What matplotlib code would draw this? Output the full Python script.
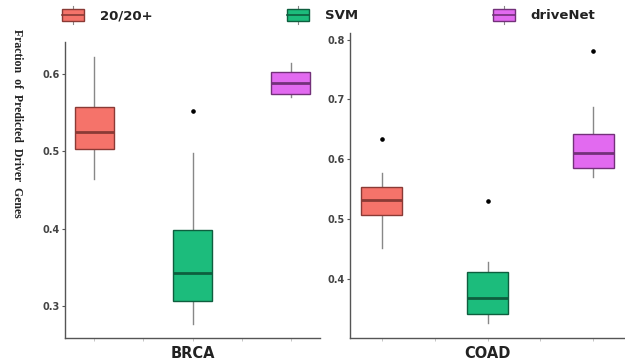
import matplotlib
matplotlib.use("Agg")
import matplotlib.pyplot as plt
from matplotlib.patches import Rectangle
from matplotlib.lines import Line2D
from matplotlib.legend_handler import HandlerBase

# ---- data ----
methods = ["20/20+", "SVM", "driveNet"]
colors = ["#F5736A", "#1CBC7C", "#E26AF0"]
edge_colors = ["#8A3A35", "#0E5E3E", "#73317A"]

# BRCA stats: whislo, q1, med, q3, whishi, fliers
brca_whislo = [0.464, 0.277, 0.570]
brca_q1 = [0.503, 0.3065, 0.574]
brca_med = [0.5246, 0.3427, 0.588]
brca_q3 = [0.557, 0.398, 0.6017]
brca_whishi = [0.622, 0.498, 0.614]
brca_fliers = [[], [0.552], []]

# COAD stats
coad_whislo = [0.453, 0.327, 0.571]
coad_q1 = [0.507, 0.343, 0.585]
coad_med = [0.533, 0.369, 0.610]
coad_q3 = [0.5545, 0.412, 0.643]
coad_whishi = [0.578, 0.429, 0.688]
coad_fliers = [[0.6345], [0.5305], [0.781]]

brca_yticks = [0.3, 0.4, 0.5, 0.6]
coad_yticks = [0.4, 0.5, 0.6, 0.7, 0.8]
panel_labels = ["BRCA", "COAD"]


def make_stats(wl, q1, med, q3, wh, fl):
    return [dict(whislo=a, q1=b, med=c, q3=d, whishi=e, fliers=f)
            for a, b, c, d, e, f in zip(wl, q1, med, q3, wh, fl)]


fig = plt.figure(figsize=(6.25, 3.62), dpi=100)
ax1 = fig.add_axes([0.104, 0.066, 0.408, 0.818])
ax2 = fig.add_axes([0.56, 0.066, 0.44, 0.843])

spine_col = "#555555"
tick_col = "#444444"


def draw(ax, stats, ylim, yticks, label):
    bp = ax.bxp(stats, positions=[0, 1, 2], widths=0.39, patch_artist=True,
                showcaps=False,
                boxprops=dict(linewidth=1.0),
                whiskerprops=dict(color="#888888", linewidth=1.0),
                medianprops=dict(linewidth=2.0),
                flierprops=dict(marker="o", markersize=2.3,
                                markerfacecolor="black", markeredgecolor="black"))
    for i, box in enumerate(bp["boxes"]):
        box.set_facecolor(colors[i])
        box.set_edgecolor(edge_colors[i])
        box.set_zorder(3)
    for i, m in enumerate(bp["medians"]):
        m.set_color(edge_colors[i])
        m.set_zorder(4)
    ax.set_xlim(-0.3, 2.3)
    ax.set_ylim(*ylim)
    ax.set_yticks(yticks)
    ax.set_yticklabels([f"{t:.1f}" for t in yticks], fontsize=7,
                       fontweight="bold", color=tick_col)
    ax.set_xticks([0, 0.5, 1, 1.5, 2])
    ax.set_xticklabels([])
    ax.tick_params(axis="x", length=2, color="#bbbbbb", width=0.6)
    ax.tick_params(axis="y", length=2, color=spine_col, width=0.8, pad=2)
    for s in ["top", "right"]:
        ax.spines[s].set_visible(False)
    for s in ["left", "bottom"]:
        ax.spines[s].set_color(spine_col)
        ax.spines[s].set_linewidth(1.0)
    ax.set_xlabel(label, fontsize=10.5, fontweight="bold", labelpad=0,
                  color="#222222")


draw(ax1, make_stats(brca_whislo, brca_q1, brca_med, brca_q3, brca_whishi, brca_fliers),
     (0.2586, 0.641), brca_yticks, panel_labels[0])
draw(ax2, make_stats(coad_whislo, coad_q1, coad_med, coad_q3, coad_whishi, coad_fliers),
     (0.302, 0.811), coad_yticks, panel_labels[1])

fig.text(0.027, 0.92, "Fraction  of  Predicted  Driver  Genes", rotation=270,
         ha="center", va="top", fontsize=8.5, fontweight="bold",
         family="Liberation Serif", color="#222222")


class BoxHandler(HandlerBase):
    def __init__(self, face, edge):
        super().__init__()
        self.face = face
        self.edge = edge

    def create_artists(self, legend, orig_handle, xdescent, ydescent, width,
                       height, fontsize, trans):
        cx = width / 2 - xdescent
        rect = Rectangle((-xdescent, -ydescent + height * 0.1), width,
                         height * 0.8, facecolor=self.face, edgecolor=self.edge,
                         linewidth=1.0, transform=trans)
        med = Line2D([-xdescent, width - xdescent],
                     [-ydescent + height / 2] * 2, color=self.edge,
                     linewidth=1.2, transform=trans)
        w1 = Line2D([cx, cx], [-ydescent - height * 0.15, -ydescent + height * 0.1],
                    color="#888888", linewidth=0.8, transform=trans)
        w2 = Line2D([cx, cx], [-ydescent + height * 0.9, -ydescent + height * 1.15],
                    color="#888888", linewidth=0.8, transform=trans)
        return [w1, w2, rect, med]


legend_x_px = [62, 287, 493]
for i, name in enumerate(methods):
    h = Rectangle((0, 0), 1, 1)
    leg = fig.legend([h], [name], loc="center left",
                     bbox_to_anchor=(legend_x_px[i] / 625, 1 - 15 / 362),
                     frameon=False, handler_map={h: BoxHandler(colors[i], edge_colors[i])},
                     handlelength=1.7, handleheight=1.3, handletextpad=1.15,
                     borderpad=0, borderaxespad=0,
                     prop=dict(size=9.5, weight="bold"), labelcolor="#222222")

fig.savefig("out.png", dpi=100)
